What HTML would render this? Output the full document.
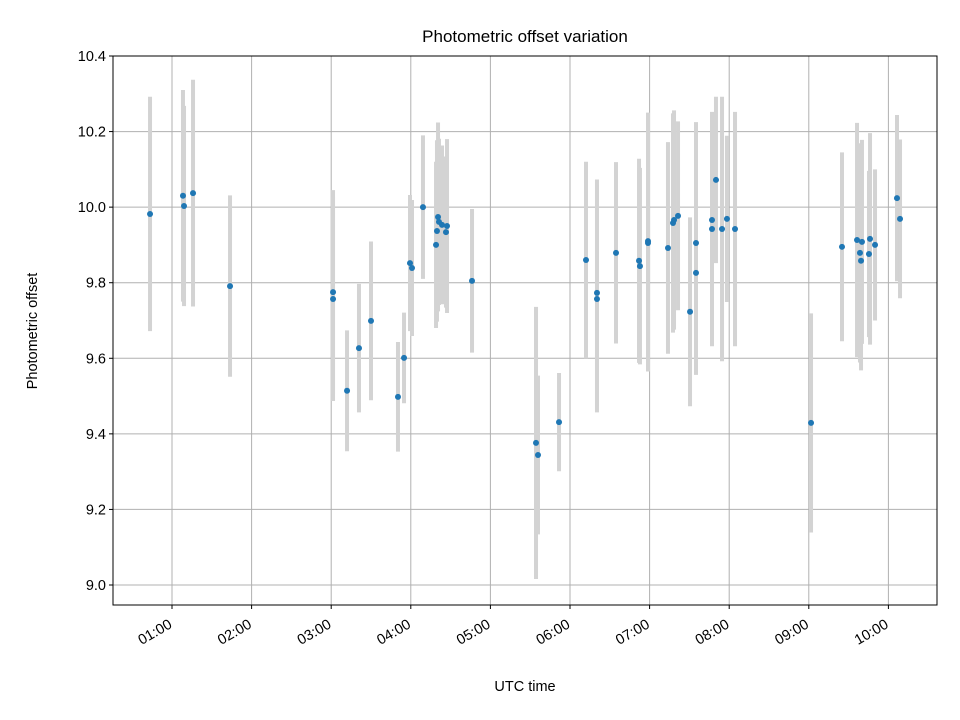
<!DOCTYPE html>
<html><head><meta charset="utf-8"><style>
body{margin:0;background:#fff;}
svg{display:block;font-family:"Liberation Sans","DejaVu Sans",sans-serif;}
</style></head><body>
<svg id="chart" width="960" height="720">
<text x="525" y="42" font-size="17" text-anchor="middle">Photometric offset variation</text>
<text x="525" y="691" font-size="14.5" text-anchor="middle">UTC time</text>
<text transform="translate(37,331) rotate(-90)" font-size="14.5" text-anchor="middle">Photometric offset</text>
<g id="grid"></g><g id="bars"></g><g id="dots"></g><g id="axes"></g>
</svg>
<script>
const times=[0.724,1.138,1.151,1.264,1.729,3.023,3.023,3.199,3.349,3.500,3.839,3.915,3.990,4.015,4.153,4.317,4.342,4.354,4.329,4.392,4.442,4.455,4.769,5.573,5.598,5.862,6.201,6.339,6.339,6.578,6.867,6.879,6.980,6.980,7.231,7.294,7.307,7.357,7.508,7.583,7.583,7.784,7.784,7.834,7.910,7.972,8.073,9.028,9.417,9.606,9.643,9.656,9.668,9.756,9.769,9.832,10.108,10.146];
const values=[9.982,10.030,10.003,10.037,9.791,9.775,9.757,9.514,9.627,9.699,9.498,9.601,9.852,9.839,10.0,9.900,9.974,9.961,9.937,9.953,9.934,9.950,9.805,9.376,9.344,9.431,9.860,9.773,9.757,9.879,9.858,9.844,9.910,9.905,9.892,9.958,9.966,9.977,9.723,9.905,9.826,9.966,9.942,10.072,9.942,9.969,9.942,9.429,9.895,9.913,9.879,9.858,9.908,9.876,9.916,9.900,10.024,9.969];
const errors=[0.31,0.28,0.265,0.30,0.24,0.27,0.27,0.16,0.17,0.21,0.145,0.12,0.18,0.18,0.19,0.22,0.25,0.22,0.24,0.21,0.20,0.23,0.19,0.36,0.21,0.13,0.26,0.30,0.30,0.24,0.27,0.26,0.34,0.34,0.28,0.29,0.29,0.25,0.25,0.32,0.27,0.27,0.31,0.22,0.35,0.22,0.31,0.29,0.25,0.31,0.29,0.29,0.27,0.22,0.28,0.20,0.22,0.21];
const yTicks=[9.0,9.2,9.4,9.6,9.8,10.0,10.2,10.4];
const xTicks=[1,2,3,4,5,6,7,8,9,10];
const xTickLabels=["01:00","02:00","03:00","04:00","05:00","06:00","07:00","08:00","09:00","10:00"];
const L=113,R=937,T=56,B=605;
const xs=h=>172+(h-1)*79.6;
const ys=v=>585-(v-9.0)*377.86;
const NS="http://www.w3.org/2000/svg";
function mk(tag,attrs,parent){const e=document.createElementNS(NS,tag);for(const k in attrs)e.setAttribute(k,attrs[k]);parent.appendChild(e);return e;}
const grid=document.getElementById('grid'),bars=document.getElementById('bars'),dots=document.getElementById('dots'),axes=document.getElementById('axes');
yTicks.forEach(v=>{
 const g=mk('line',{x1:L,x2:R,y1:ys(v),y2:ys(v),stroke:'#b0b0b0','stroke-width':1},grid);
 
 
 mk('line',{x1:L-4,x2:L,y1:ys(v),y2:ys(v),stroke:'#000'},axes);
 const t=mk('text',{x:L-7,y:ys(v)+5,'font-size':14.5,'text-anchor':'end'},axes);
 t.textContent=v.toFixed(1);
 
 
});
xTicks.forEach((h,i)=>{
 const x=xs(h);
 const g=mk('line',{x1:x,x2:x,y1:T,y2:B,stroke:'#b0b0b0','stroke-width':1},grid);
 
 
 mk('line',{x1:x,x2:x,y1:B,y2:B+4,stroke:'#000'},axes);
 const t=mk('text',{transform:`translate(${x+1},${B+22}) rotate(-30)`,'font-size':14.5,'text-anchor':'end'},axes);
 t.textContent=xTickLabels[i];
 
 
});
times.forEach((h,i)=>{
 const b=mk('line',{x1:xs(h),x2:xs(h),y1:ys(values[i]+errors[i]),y2:ys(values[i]-errors[i]),stroke:'#d3d3d3','stroke-width':4},bars);
 
 
});
times.forEach((h,i)=>{
 const c=mk('circle',{cx:xs(h),cy:ys(values[i]),r:3,fill:'#1f77b4'},dots);
 
 
});
const f=mk('rect',{x:L,y:T,width:R-L,height:B-T,fill:'none',stroke:'#000','stroke-width':1},axes);


</script>
</body></html>
